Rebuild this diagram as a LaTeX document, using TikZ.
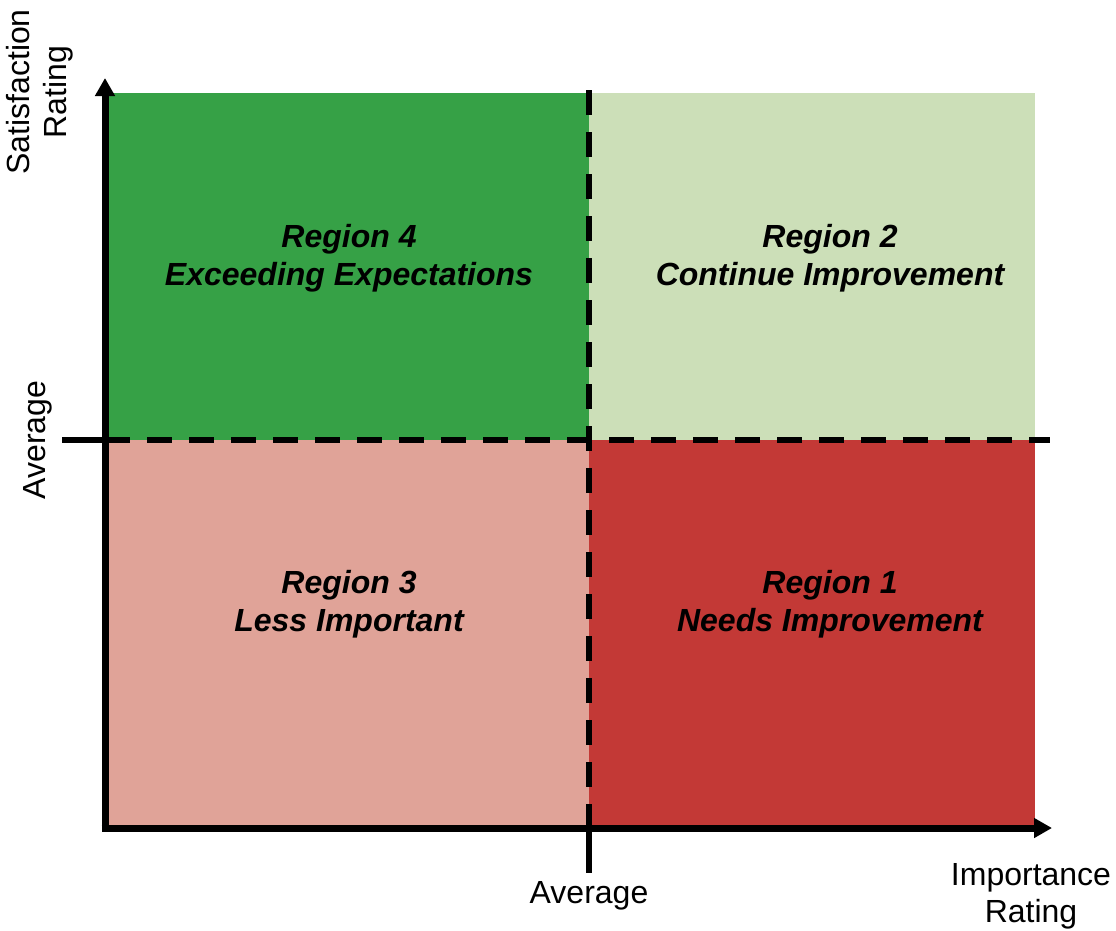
\documentclass[tikz,border=0pt]{standalone}
\usepackage{fontspec}
\setmainfont{Liberation Sans}
\usetikzlibrary{arrows.meta}
\definecolor{qgreen}{HTML}{36A146}
\definecolor{qlgreen}{HTML}{CCDFB8}
\definecolor{qpink}{HTML}{E0A398}
\definecolor{qred}{HTML}{C33936}
\tikzset{
  axis/.style={line width=7pt,-{Triangle[length=18pt,width=19pt]}},
  divider/.style={line width=6.5pt,dash pattern=on 25pt off 17pt},
  tick/.style={line width=6.5pt},
  regionlabel/.style={font=\fontsize{32}{38}\selectfont\bfseries\itshape,align=center,inner sep=0pt},
  axislabel/.style={font=\fontsize{32}{37}\selectfont,align=center,inner sep=0pt},
}
\begin{document}
\begin{tikzpicture}[x=1pt,y=-1pt]
\useasboundingbox (0,0) rectangle (1116,930);
% quadrants
\fill[qgreen] (108,93) rectangle (589,440);
\fill[qlgreen] (589,93) rectangle (1035,440);
\fill[qpink] (108,440) rectangle (589,828);
\fill[qred] (589,440) rectangle (1035,828);
% coordinates
\coordinate (O) at (105,828);
\coordinate (ytip) at (105,78);
\coordinate (xtip) at (1052,828);
\coordinate (hl) at (105,440);
\coordinate (hr) at (1050,440);
\coordinate (ht) at (62,440);
\coordinate (vt) at (589,90);
\coordinate (vb) at (589,828);
\coordinate (vbt) at (589,873);
% dividers
\draw[divider] (hl) -- (hr);
\draw[divider] (vt) -- (vb);
\draw[tick] (ht) -- (hl);
\draw[tick] (vb) -- (vbt);
% axes
\draw[axis] (O) -- (ytip);
\draw[axis] ([xshift=-3.5pt]O) -- (xtip);
% region labels
\node[regionlabel] (r4) at (349,258) {Region 4\\Exceeding Expectations};
\node[regionlabel] (r2) at (830,258) {Region 2\\Continue Improvement};
\node[regionlabel] (r3) at (349,604) {Region 3\\Less Important};
\node[regionlabel] (r1) at (830,604) {Region 1\\Needs Improvement};
% axis labels
\node[axislabel] (xavg) at (589,896) {Average};
\node[axislabel] (xlab) at (1031,896) {Importance\\Rating};
\node[axislabel,rotate=90] (yavg) at (38,440) {Average};
\node[axislabel,rotate=90] (ylab) at (40,92) {Satisfaction\\Rating};
\end{tikzpicture}
\end{document}
